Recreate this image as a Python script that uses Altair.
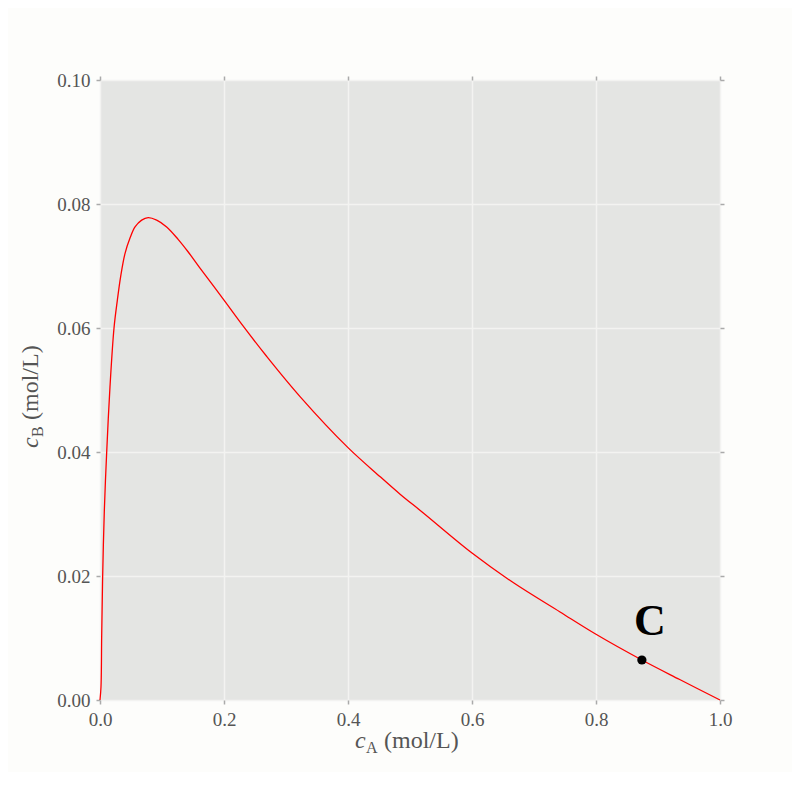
import altair as alt
import pandas as pd

# Curve
c_a = [0.0, 0.0016, 0.0027, 0.0043, 0.0070, 0.0108, 0.0161, 0.0226, 0.028, 0.0333,
       0.0403, 0.0484, 0.0565, 0.0672, 0.0777, 0.0914, 0.1075, 0.126, 0.142, 0.161,
       0.2, 0.231, 0.269, 0.323, 0.4, 0.452, 0.484, 0.521, 0.6, 0.667, 0.742, 0.8,
       0.874, 0.935, 1.0]
c_b = [0.0, 0.0021, 0.0102, 0.020, 0.0306, 0.040, 0.0505, 0.060, 0.0645, 0.0683,
       0.0720, 0.0745, 0.0763, 0.0774, 0.0778, 0.0774, 0.0763, 0.0743, 0.0723, 0.0697,
       0.0645, 0.0603, 0.0554, 0.0489, 0.0407, 0.0360, 0.0332, 0.0302, 0.0237, 0.0189,
       0.0142, 0.0106, 0.00645, 0.0033, 0.0]

point_a = [0.874]
point_b = [0.00645]
label_text = ["C"]
label_a = [0.887]
label_b = [0.0126]

x_ticks = [0.0, 0.2, 0.4, 0.6, 0.8, 1.0]
y_ticks = [0.0, 0.02, 0.04, 0.06, 0.08, 0.10]

curve = pd.DataFrame({"cA": c_a, "cB": c_b, "order": list(range(len(c_a)))})
pt = pd.DataFrame({"cA": point_a, "cB": point_b})
lab = pd.DataFrame({"cA": label_a, "cB": label_b, "t": label_text})

FONT = "Liberation Serif"
GRAY = "#555555"
xs = alt.Scale(domain=[0, 1], nice=False, zero=False)
ys = alt.Scale(domain=[0, 0.1], nice=False, zero=False)

line = alt.Chart(curve).mark_line(color="red", strokeWidth=1.3, interpolate="catmull-rom").encode(
    x=alt.X("cA:Q", scale=xs, axis=alt.Axis(orient="bottom", values=x_ticks, format=".1f", title=None,
                                            grid=True, domain=False, labelFlush=False)),
    y=alt.Y("cB:Q", scale=ys, axis=alt.Axis(orient="left", values=y_ticks, format=".2f", title=None,
                                            grid=True, domain=False, labelFlush=False)),
    order="order:Q",
)

dot = alt.Chart(pt).mark_circle(color="black", opacity=1, size=85).encode(
    x=alt.X("cA:Q", scale=xs, axis=alt.Axis(orient="top", values=x_ticks, labels=False, title=None,
                                            grid=False, domain=False)),
    y=alt.Y("cB:Q", scale=ys, axis=alt.Axis(orient="right", values=y_ticks, labels=False, title=None,
                                            grid=False, domain=False)),
)

lbl = alt.Chart(lab).mark_text(font=FONT, fontWeight="bold", fontSize=44, color="black",
                               align="center", baseline="middle").encode(
    x=alt.X("cA:Q", scale=xs, axis=None), y=alt.Y("cB:Q", scale=ys, axis=None), text="t:N")

title_df = pd.DataFrame({"d": [0]})
def txt(s, x, y, size, style="normal", angle=0):
    return alt.Chart(title_df).mark_text(text=s, font=FONT, fontSize=size, fontStyle=style, color=GRAY,
                                         align="left", baseline="alphabetic", angle=angle).encode(
        x=alt.value(x), y=alt.value(y))

# x title: c_A (mol/L)
xt1 = txt("c", 255, 668, 24, "italic")
xt2 = txt("A", 266, 673, 16)
xt3 = txt("(mol/L)", 284, 668, 24)
# y title: c_B (mol/L)
yt1 = txt("c", -62, 368, 24, "italic", angle=270)
yt2 = txt("B", -57, 357, 16, angle=270)
yt3 = txt("(mol/L)", -62, 340, 24, angle=270)

chart = alt.layer(line, dot, lbl, xt1, xt2, xt3, yt1, yt2, yt3).resolve_axis(
    x="independent", y="independent"
).properties(
    width=620, height=620,
    autosize=alt.AutoSizeParams(type="none"),
    padding={"left": 92, "top": 72, "right": 72, "bottom": 72},
    background="#fdfdfb",
).configure_view(
    fill="#e4e5e3", stroke=None
).configure_axis(
    labelFont=FONT, labelFontSize=19, labelColor=GRAY,
    tickColor="#aaaaaa", tickSize=4, tickWidth=1.5,
    gridColor="#f3f3f1", gridWidth=1.5,
    labelPadding=6,
)

chart.save("out.html", embed_options={"renderer": "svg", "actions": False})
